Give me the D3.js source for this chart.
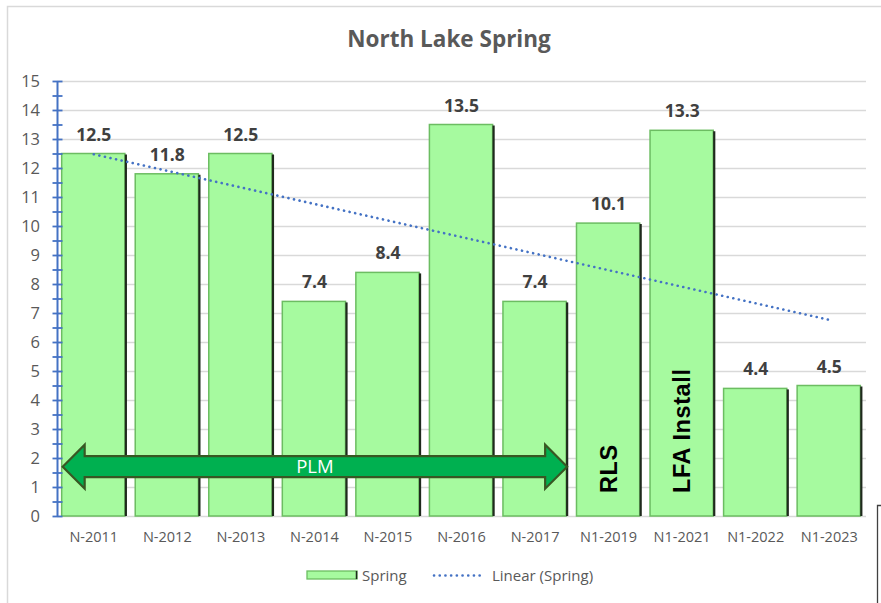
<!DOCTYPE html>
<html>
<head>
<meta charset="utf-8">
<script src="https://cdn.jsdelivr.net/npm/d3@7"></script>
<style>
  body { margin: 0; background: #fff; }
  svg { display: block; font-family: "Open Sans", "Noto Sans", sans-serif; }
</style>
</head>
<body>
<svg id="chart" width="881" height="603"></svg>
<script>
// data
var categories = ["N-2011", "N-2012", "N-2013", "N-2014", "N-2015", "N-2016", "N-2017", "N1-2019", "N1-2021", "N1-2022", "N1-2023"];
var springValues = [12.5, 11.8, 12.5, 7.4, 8.4, 13.5, 7.4, 10.1, 13.3, 4.4, 4.5];
var yTicks = [0, 1, 2, 3, 4, 5, 6, 7, 8, 9, 10, 11, 12, 13, 14, 15];
var barNotes = [{ cat: "N1-2019", text: "RLS" }, { cat: "N1-2021", text: "LFA Install" }];
var arrowSpan = { from: "N-2011", to: "N-2017", level: 1.7, text: "PLM" };

var svg = d3.select("#chart");
var margin = { left: 57, right: 15, top: 81, bottom: 87 };
var W = 881, H = 603;

// outer frame of the chart object
svg.append("rect")
    .attr("x", 7.5).attr("y", 6.5)
    .attr("width", 900).attr("height", 700)
    .attr("fill", "none").attr("stroke", "#d9d9d9").attr("stroke-width", 1.5);

var x = d3.scaleBand()
    .domain(categories)
    .range([margin.left, W - margin.right])
    .paddingInner(0.1).paddingOuter(0.05);

var y = d3.scaleLinear()
    .domain([0, 15])
    .range([H - margin.bottom, margin.top]);

// gridlines
svg.append("g")
    .selectAll("line")
    .data(yTicks.filter(function(d) { return d > 0; }))
    .enter().append("line")
    .attr("x1", margin.left).attr("x2", W - margin.right)
    .attr("y1", function(d) { return Math.round(y(d)) + 0.5; })
    .attr("y2", function(d) { return Math.round(y(d)) + 0.5; })
    .attr("stroke", "#d9d9d9").attr("stroke-width", 1.3);

// baseline
svg.append("line")
    .attr("x1", margin.left).attr("x2", W - margin.right)
    .attr("y1", y(0) + 0.5).attr("y2", y(0) + 0.5)
    .attr("stroke", "#d9d9d9").attr("stroke-width", 1.5);

// bars
var rows = categories.map(function(c, i) { return { cat: c, v: springValues[i] }; });
var bars = svg.append("g");
bars.selectAll("rect.bar")
    .data(rows)
    .enter().append("rect")
    .attr("class", "bar")
    .attr("x", function(d) { return x(d.cat) + 1; })
    .attr("y", function(d) { return y(d.v); })
    .attr("width", x.bandwidth() - 3)
    .attr("height", function(d) { return y(0) - y(d.v); })
    .attr("fill", "#a6fa9f")
    .attr("stroke", "#6cbd62").attr("stroke-width", 1.5);
// dark shadow edge on the right of each bar
bars.selectAll("line.shade")
    .data(rows)
    .enter().append("line")
    .attr("class", "shade")
    .attr("x1", function(d) { return x(d.cat) + x.bandwidth() - 1; })
    .attr("x2", function(d) { return x(d.cat) + x.bandwidth() - 1; })
    .attr("y1", function(d) { return y(d.v) + 1; })
    .attr("y2", y(0))
    .attr("stroke", "#1f2a1d").attr("stroke-width", 2.2);

// value labels
svg.append("g")
    .selectAll("text")
    .data(rows)
    .enter().append("text")
    .attr("x", function(d) { return x(d.cat) + x.bandwidth() / 2; })
    .attr("y", function(d) { return y(d.v) - 13; })
    .attr("text-anchor", "middle")
    .attr("font-size", 17.5).attr("font-weight", "bold")
    .attr("fill", "#404040")
    .text(function(d) { return d.v.toFixed(1); });

// y axis (blue, with half-unit minor ticks)
var yAxis = d3.axisLeft(y)
    .tickValues(d3.range(0, 15.01, 0.5))
    .tickSize(0)
    .tickFormat("");
var ya = svg.append("g").attr("transform", "translate(" + (margin.left + 0.5) + ",0)").call(yAxis);
ya.select(".domain").remove();
svg.append("line")
    .attr("x1", margin.left + 0.5).attr("x2", margin.left + 0.5)
    .attr("y1", y(15)).attr("y2", y(0))
    .attr("stroke", "#4472c4").attr("stroke-width", 2);
ya.selectAll(".tick line")
    .attr("x1", -5).attr("x2", 5)
    .attr("stroke", "#4472c4").attr("stroke-width", 1.8);
svg.append("g")
    .selectAll("text")
    .data(yTicks)
    .enter().append("text")
    .attr("x", 40)
    .attr("y", function(d) { return y(d) + 6; })
    .attr("text-anchor", "end")
    .attr("font-size", 16.5).attr("fill", "#595959")
    .text(function(d) { return d; });

// x axis labels
var xAxis = d3.axisBottom(x).tickSize(0).tickPadding(16);
var xa = svg.append("g").attr("transform", "translate(0," + y(0) + ")").call(xAxis);
xa.select(".domain").remove();
xa.selectAll("text")
    .attr("font-size", 14.5).attr("fill", "#595959")
    .attr("font-family", "'Open Sans', sans-serif");

// linear trend
var n = springValues.length;
var xs = d3.range(1, n + 1);
var mx = d3.mean(xs), my = d3.mean(springValues);
var slope = d3.sum(xs, function(v, i) { return (v - mx) * (springValues[i] - my); }) /
            d3.sum(xs, function(v) { return (v - mx) * (v - mx); });
var icpt = my - slope * mx;
var trend = [
    { cat: categories[0], v: icpt + slope * 1 },
    { cat: categories[n - 1], v: icpt + slope * n }
];
svg.append("path")
    .datum(trend)
    .attr("d", d3.line()
        .x(function(d) { return x(d.cat) + x.bandwidth() / 2; })
        .y(function(d) { return y(d.v); }))
    .attr("fill", "none")
    .attr("stroke", "#4472c4").attr("stroke-width", 2.6)
    .attr("stroke-dasharray", "0.1,5.6").attr("stroke-linecap", "round");

// PLM double arrow
var ax0 = x(arrowSpan.from) + 2, ax1 = x(arrowSpan.to) + x.bandwidth() - 1;
var ay = y(arrowSpan.level);
var shaft = 10.5, head = 22, headLen = 22;
var arrowPts = [
    [ax0, ay], [ax0 + headLen, ay - head], [ax0 + headLen, ay - shaft],
    [ax1 - headLen, ay - shaft], [ax1 - headLen, ay - head], [ax1, ay],
    [ax1 - headLen, ay + head], [ax1 - headLen, ay + shaft], [ax0 + headLen, ay + shaft],
    [ax0 + headLen, ay + head]
];
svg.append("path")
    .attr("d", d3.line()(arrowPts) + "Z")
    .attr("fill", "#00b050")
    .attr("stroke", "#385723").attr("stroke-width", 2.2)
    .attr("stroke-linejoin", "miter");
svg.append("text")
    .attr("x", (ax0 + ax1) / 2).attr("y", ay + 6.5)
    .attr("text-anchor", "middle")
    .attr("font-size", 18.5).attr("fill", "#fff")
    .text(arrowSpan.text);

// rotated notes inside bars
svg.append("g")
    .selectAll("text")
    .data(barNotes)
    .enter().append("text")
    .attr("transform", function(d) {
        return "translate(" + (x(d.cat) + x.bandwidth() / 2 + 8) + "," + (y(0) - 23) + ") rotate(-90)";
    })
    .attr("font-family", "'Liberation Sans', Arial, sans-serif")
    .attr("font-size", 23.5).attr("font-weight", "bold").attr("fill", "#000")
    .attr("letter-spacing", 0.6)
    .text(function(d) { return d.text; });

// title
svg.append("text")
    .attr("x", 449).attr("y", 47)
    .attr("text-anchor", "middle")
    .attr("font-size", 22.5).attr("font-weight", "bold").attr("fill", "#595959")
    .text("North Lake Spring");

// legend
var lg = svg.append("g");
lg.append("rect")
    .attr("x", 307).attr("y", 571).attr("width", 50).attr("height", 8)
    .attr("fill", "#a6fa9f").attr("stroke", "#6cbd62").attr("stroke-width", 1.3);
lg.append("line")
    .attr("x1", 356.5).attr("x2", 356.5).attr("y1", 571).attr("y2", 579)
    .attr("stroke", "#1f2a1d").attr("stroke-width", 1.5);
lg.append("text").attr("x", 362).attr("y", 581)
    .attr("font-size", 15).attr("fill", "#595959").text("Spring");
lg.append("line")
    .attr("x1", 434).attr("x2", 481).attr("y1", 575.5).attr("y2", 575.5)
    .attr("stroke", "#4472c4").attr("stroke-width", 2.6)
    .attr("stroke-dasharray", "0.1,5.6").attr("stroke-linecap", "round");
lg.append("text").attr("x", 492).attr("y", 581)
    .attr("font-size", 15).attr("fill", "#595959").text("Linear (Spring)");

// stray corner bracket at bottom right
svg.append("path")
    .attr("d", "M881,505.5 H877.5 V603")
    .attr("fill", "none").attr("stroke", "#404040").attr("stroke-width", 1.3);
</script>
</body>
</html>
